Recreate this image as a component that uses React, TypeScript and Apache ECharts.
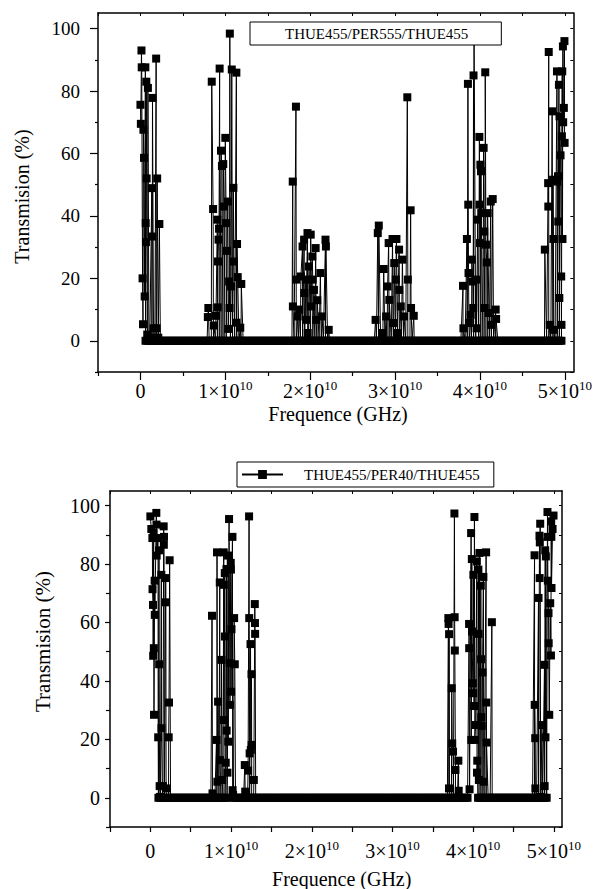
import React, { useEffect, useRef } from "react";
import * as echarts from "echarts";

const FONT = "Liberation Serif";

// frequencies in units of 1e9 (x axis is in raw units, labels 1×10^10 …)
const GIGA = 1e9;

const topName = "THUE455/PER555/THUE455";
const botName = "THUE455/PER40/THUE455";

// ---- top chart: pass-band points [freq (×1e9), transmission %]
const topBandA = [
  [0.0, 75.6], [0.05, 69.5], [0.12, 93], [0.15, 87.6], [0.25, 20], [0.3, 5.3], [0.35, 67.6], [0.42, 58.6],
  [0.5, 14.2], [0.58, 87.6], [0.62, 37.7], [0.65, 31.6], [0.69, 83], [0.73, 52], [0.8, 2], [0.88, 81],
  [1.0, 1], [1.34, 48.9], [1.4, 33.4], [1.42, 77.8], [1.54, 4], [1.7, 1], [1.85, 90.4], [1.9, 4],
  [1.97, 52], [2.1, 1], [2.23, 37.4],
];
const topBandB = [
  [7.94, 7.6], [8.0, 10.5], [8.4, 83], [8.56, 42.2], [8.65, 4.9], [8.9, 8], [9.06, 38.8], [9.1, 10.7],
  [9.14, 25.4], [9.2, 32.4], [9.26, 35.9], [9.33, 87.2], [9.49, 60.9], [9.6, 56], [9.76, 56.6], [9.84, 43],
  [10.0, 65], [10.1, 37.7], [10.2, 28.8], [10.3, 44.6], [10.34, 3.8], [10.45, 19], [10.5, 10.5], [10.53, 98.4],
  [10.68, 17.4], [10.76, 86.9], [10.95, 49], [11.0, 25.4], [11.3, 85.9], [11.32, 5.8], [11.38, 31], [11.46, 20.4],
  [11.76, 4.2], [11.88, 18.2],
];
const topBandC = [
  [17.94, 51], [17.96, 11], [18.32, 75], [18.35, 19.6], [18.52, 7.8], [18.7, 10], [18.9, 20.6], [19.1, 30.2],
  [19.28, 32.4], [19.3, 15.3], [19.48, 19.6], [19.5, 6.7], [19.68, 34.5], [19.7, 2.5], [19.86, 23.8], [20.06, 34],
  [20.1, 11], [20.25, 27], [20.3, 19.6], [20.44, 16.3], [20.64, 29.7], [20.7, 6.7], [20.83, 13], [21.2, 21.7],
  [21.4, 7.8], [21.8, 32.4], [21.85, 30.2], [22.18, 3.5],
];
const topBandD = [
  [27.7, 6.7], [27.96, 34.5], [28.08, 36.9], [28.54, 2.5], [28.66, 23], [28.94, 7.8], [29.12, 17.4], [29.24, 31.3],
  [29.32, 13.1], [29.7, 32.6], [29.75, 5.7], [29.9, 24.9], [30.09, 19.6], [30.16, 32.6], [30.28, 2.5], [30.47, 29.2],
  [30.5, 16.3], [30.67, 11], [30.86, 26], [31.05, 7.8], [31.44, 78], [31.5, 19.6], [31.83, 41.8], [31.88, 10.5],
  [32.2, 8],
];
const topBandE = [
  [38.0, 17.6], [38.05, 4], [38.46, 32.6], [38.58, 82.3], [38.62, 43.6], [38.65, 21.7], [38.7, 5.7], [38.9, 8.3],
  [39.04, 26], [39.16, 19], [39.2, 10.5], [39.24, 85], [39.3, 99], [39.55, 19.6], [39.6, 4], [39.73, 38.8],
  [39.93, 65.3], [39.95, 43.6], [40.0, 31.3], [40.05, 56.4], [40.12, 54.3], [40.15, 40.9], [40.43, 61.8], [40.5, 35],
  [40.55, 10.5], [40.62, 86], [40.7, 30.8], [40.8, 25.1], [40.9, 40.9], [41.05, 8.9], [41.27, 44.6], [41.3, 5.1],
  [41.5, 45.4], [41.85, 10], [41.9, 7],
];
const topBandF = [
  [47.64, 29.2], [48.03, 50.5], [48.05, 43], [48.1, 92.5], [48.22, 5.1], [48.5, 73.5], [48.61, 51.6], [48.65, 32.6],
  [48.7, 3.5], [49.07, 86.3], [49.1, 51], [49.19, 52.7], [49.22, 38.2], [49.3, 82], [49.35, 13.7], [49.37, 71.9],
  [49.49, 59.4], [49.57, 20.6], [49.6, 5.1], [49.65, 65.5], [49.69, 86.3], [49.72, 32.6], [49.77, 94.3], [49.8, 70],
  [49.88, 74.6], [49.95, 96], [49.97, 63.4],
];
// stop-band stretches where transmission reads 0 (freq ×1e9)
const topZeroRanges = [[0.6, 10.0], [10.6, 19.4], [19.8, 30.1], [30.5, 39.4], [39.85, 49.5]];

// ---- bottom chart
const botBandA = [
  [0.0, 96.3], [0.12, 92], [0.25, 88.9], [0.27, 71.4], [0.33, 66], [0.35, 48.6], [0.41, 90.6], [0.43, 51.2],
  [0.45, 28.4], [0.53, 74.3], [0.55, 62.6], [0.74, 97.5], [0.76, 93.5], [0.78, 82.9], [0.95, 88.9], [0.97, 20.7],
  [1.07, 84.7], [1.09, 45.7], [1.15, 4], [1.2, 0.3], [1.36, 76.3], [1.38, 23.8], [1.56, 4], [1.65, 92.9],
  [1.67, 86.6], [1.69, 89.3], [1.9, 75.2], [1.92, 66.9], [1.95, 3.2], [2.27, 20.7], [2.31, 32.6], [2.39, 81.3],
];
const botBandB = [
  [7.64, 62.3], [7.7, 1.5], [8.19, 19.8], [8.26, 84], [8.3, 5.5], [8.39, 32.9], [8.6, 73.7], [8.62, 12.9],
  [8.81, 47.2], [8.9, 6.1], [9.09, 84], [9.1, 72.9], [9.12, 26.6], [9.22, 76.9], [9.24, 55.2], [9.34, 12],
  [9.43, 78.3], [9.45, 23], [9.55, 8.6], [9.63, 82.9], [9.65, 19.2], [9.75, 95.4], [9.84, 46.1], [9.86, 31.8],
  [9.96, 80.4], [9.98, 78.1], [10.0, 36.3], [10.05, 57.7], [10.17, 89.3], [10.19, 2.6], [10.25, 1], [10.38, 61.5],
  [10.46, 45.7],
];
const botBandB2 = [
  [11.7, 11.2], [11.75, 2.1], [12.11, 9.3], [12.23, 96.3], [12.25, 61.5], [12.3, 15.2], [12.41, 52.6], [12.45, 16.4],
  [12.53, 42.3], [12.55, 18.1], [12.82, 6.1], [12.94, 66.3], [12.96, 59.8], [12.98, 56.1],
];
const botBandC = [
  [36.92, 61.5], [36.95, 59.5], [37.0, 3.2], [37.01, 56], [37.34, 37.5], [37.4, 18.6], [37.5, 15.8], [37.67, 97.3],
  [37.7, 61.8], [37.72, 50.4], [37.8, 9.5], [38.16, 12.7], [38.2, 2.4],
];
const botBandD = [
  [39.49, 59.5], [39.5, 51.2], [39.55, 2.9], [39.74, 90.6], [39.76, 19.8], [39.83, 81.7], [39.85, 56.9], [39.95, 39.2],
  [40.0, 35.8], [40.02, 76.3], [40.11, 31.4], [40.15, 96.1], [40.2, 19.8], [40.3, 24.9], [40.45, 80.9], [40.47, 8.6],
  [40.5, 12.7], [40.64, 78.1], [40.66, 56.1], [40.7, 6.1], [40.77, 83.8], [40.94, 72.6], [40.98, 47.4], [41.0, 27.6],
  [41.05, 24.6], [41.15, 42.9], [41.26, 75.6], [41.3, 5.5], [41.6, 84], [41.62, 32.6], [41.65, 18.9], [42.31, 60.1],
];
const botBandE = [
  [47.6, 83], [47.62, 31.8], [47.68, 20.4], [47.7, 3.2], [48.09, 68.4], [48.21, 89.7], [48.23, 75.2], [48.25, 87.4],
  [48.3, 93.8], [48.4, 0.3], [48.51, 24.9], [48.83, 45.5], [48.85, 4], [48.92, 84.7], [48.95, 20.7], [49.0, 82.6],
  [49.2, 97.8], [49.22, 89.3], [49.25, 74.3], [49.33, 63.2], [49.35, 52.9], [49.42, 28.4], [49.54, 66.6], [49.63, 48.7],
  [49.66, 94.6], [49.68, 89.3], [49.7, 71.8], [49.83, 92], [49.95, 96.6],
];
const botZeroRanges = [[1.0, 9.6], [10.3, 39.4], [40.6, 49.1]];

// sampling step of the frequency grid (×1e9)
const sampleStep = 0.25;

// axis ticks / labels
const xMajor = [0, 1e10, 2e10, 3e10, 4e10, 5e10];
const xMinor = [-5e9, 5e9, 1.5e10, 2.5e10, 3.5e10, 4.5e10];
const yMajor = [0, 20, 40, 60, 80, 100];
const yMinor = [-10, 10, 30, 50, 70, 90];
const yAll = [-10, 0, 10, 20, 30, 40, 50, 60, 70, 80, 90, 100];
const xAll = [-5e9, 0, 5e9, 1e10, 1.5e10, 2e10, 2.5e10, 3e10, 3.5e10, 4e10, 4.5e10, 5e10];

function buildSeries(bands: number[][][], zeros: number[][]) {
  const pts: number[][] = [];
  bands.forEach((b) => b.forEach(([f, v]) => pts.push([f * GIGA, v])));
  zeros.forEach(([a, b]) => {
    const n = Math.round((b - a) / sampleStep);
    for (let i = 0; i <= n; i++) pts.push([(a + i * sampleStep) * GIGA, 0]);
  });
  pts.sort((p, q) => p[0] - q[0]);
  return pts;
}

const topData = buildSeries([topBandA, topBandB, topBandC, topBandD, topBandE, topBandF], topZeroRanges);
const botData = buildSeries([botBandA, botBandB, botBandB2, botBandC, botBandD, botBandE], botZeroRanges);

function xLabel(v: number) {
  if (v === 0) return "{n|0}";
  const k = Math.round(v / 1e10);
  return `{n|${k}×10}{s|10}`;
}

const AXIS_W = 1.5;

function axesFor(gridIndex: number, o: { yFont: number; yMargin: number; yTick: number; xMargin: number; xTick: number; xMinorTick: number; yMinorTick: number }) {
  const xAxes = [
    {
      gridIndex, type: "value", min: -5e9, max: 5.1e10, position: "bottom",
      axisLine: { show: true, onZero: false, lineStyle: { color: "#000", width: AXIS_W } },
      axisTick: { show: true, inside: false, length: o.xTick, customValues: xMajor, lineStyle: { color: "#000", width: 1.2 } },
      axisLabel: {
        show: true, customValues: xMajor, margin: o.xMargin, formatter: xLabel,
        fontFamily: FONT, fontSize: 20, color: "#000",
        rich: {
          n: { fontFamily: FONT, color: "#000", fontSize: 20, verticalAlign: "bottom", lineHeight: 22 },
          s: { fontFamily: FONT, color: "#000", fontSize: 13, verticalAlign: "top", lineHeight: 22 },
        },
      },
      splitLine: { show: false },
    },
    {
      gridIndex, type: "value", min: -5e9, max: 5.1e10, position: "bottom",
      axisLine: { show: false, onZero: false },
      axisTick: { show: true, inside: false, length: o.xMinorTick, customValues: xMinor, lineStyle: { color: "#000", width: 1.2 } },
      axisLabel: { show: false },
      splitLine: { show: false },
    },
    {
      gridIndex, type: "value", min: -5e9, max: 5.1e10, position: "top",
      axisLine: { show: true, onZero: false, lineStyle: { color: "#000", width: AXIS_W } },
      axisTick: { show: true, inside: true, length: 3, customValues: xAll, lineStyle: { color: "#000" } },
      axisLabel: { show: false },
      splitLine: { show: false },
    },
  ];
  const yAxes = [
    {
      gridIndex, type: "value", min: -10, max: 105, position: "left",
      axisLine: { show: true, onZero: false, lineStyle: { color: "#000", width: AXIS_W } },
      axisTick: { show: true, inside: false, length: o.yTick, customValues: yMajor, lineStyle: { color: "#000", width: 1.2 } },
      axisLabel: { show: true, customValues: yMajor, margin: o.yMargin, fontFamily: FONT, fontSize: o.yFont, color: "#000" },
      splitLine: { show: false },
    },
    {
      gridIndex, type: "value", min: -10, max: 105, position: "left",
      axisLine: { show: false, onZero: false },
      axisTick: { show: true, inside: false, length: o.yMinorTick, customValues: yMinor, lineStyle: { color: "#000", width: 1.2 } },
      axisLabel: { show: false },
      splitLine: { show: false },
    },
    {
      gridIndex, type: "value", min: -10, max: 105, position: "right",
      axisLine: { show: true, onZero: false, lineStyle: { color: "#000", width: AXIS_W } },
      axisTick: { show: true, inside: true, length: 3, customValues: yAll, lineStyle: { color: "#000" } },
      axisLabel: { show: false },
      splitLine: { show: false },
    },
  ];
  return { xAxes, yAxes };
}

export default function App() {
  const ref = useRef<HTMLDivElement>(null);
  useEffect(() => {
    if (!ref.current) return;
    const chart = echarts.init(ref.current, null, { renderer: "svg" });
    const top = axesFor(0, { yFont: 19, yMargin: 18, yTick: 8, xMargin: 7, xTick: 8, xMinorTick: 4, yMinorTick: 3 });
    const bot = axesFor(1, { yFont: 20, yMargin: 10, yTick: 5, xMargin: 12, xTick: 5, xMinorTick: 5, yMinorTick: 4 });
    const seriesBase = {
      type: "line",
      symbol: "rect",
      symbolSize: 8,
      showSymbol: true,
      showAllSymbol: true,
      lineStyle: { color: "#000", width: 1 },
      itemStyle: { color: "#000" },
      z: 2,
    };
    const title = (text: string, x: number, y: number, size: number, rotated: boolean) => ({
      type: "text", x, y, rotation: rotated ? Math.PI / 2 : 0,
      style: { text, fontFamily: FONT, fontSize: size, fill: "#000", align: "center", verticalAlign: "middle" },
    });
    chart.setOption({
      animation: false,
      grid: [
        { left: 98, top: 13, width: 484, height: 359, show: false },
        { left: 110, top: 491, width: 452, height: 336, show: false },
      ],
      xAxis: [...top.xAxes, ...bot.xAxes],
      yAxis: [...top.yAxes, ...bot.yAxes],
      legend: [
        {
          data: [{ name: topName, icon: "none" }],
          left: 250, top: 22,
          padding: [4, 33, 4, 5],
          itemWidth: 25, itemHeight: 14,
          borderColor: "#000", borderWidth: 1, backgroundColor: "#fff",
          textStyle: { fontFamily: FONT, fontSize: 15, color: "#000" },
          selectedMode: false, z: 10,
        },
        {
          data: [botName],
          left: 237, top: 462,
          padding: [5, 14, 5, 4],
          itemWidth: 41, itemHeight: 11,
          borderColor: "#000", borderWidth: 1, backgroundColor: "#fff",
          textStyle: { fontFamily: FONT, fontSize: 15, color: "#000", padding: [0, 0, 0, 16] },
          selectedMode: false, z: 10,
        },
      ],
      series: [
        { ...seriesBase, name: topName, xAxisIndex: 0, yAxisIndex: 0, data: topData },
        { ...seriesBase, name: botName, xAxisIndex: 3, yAxisIndex: 3, data: botData },
      ],
      graphic: [
        title("Transmision (%)", 22, 196.5, 20, true),
        title("Frequence (GHz)", 338, 414, 20, false),
        title("Transmision (%)", 43, 641.5, 21, true),
        title("Frequence (GHz)", 341.7, 879, 20, false),
      ],
    });
    return () => chart.dispose();
  }, []);
  return <div ref={ref} style={{ position: "absolute", left: 0, top: 0, width: 595, height: 889 }} />;
}
